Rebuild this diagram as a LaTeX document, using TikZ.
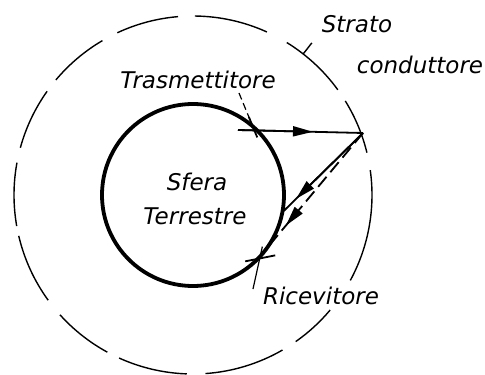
\documentclass[tikz,border=0pt]{standalone}
\usepackage{fontspec}
\setmainfont{DejaVu Sans}
\usetikzlibrary{arrows.meta,calc}
\begin{document}
\begin{tikzpicture}[x=1pt,y=1pt,
  lbl/.style={font=\fontsize{23}{25}\selectfont\itshape, inner sep=0pt},
  outer/.style={line width=1.4pt},
  earth/.style={line width=3.8pt},
  ray/.style={line width=1.8pt},
  tip/.style={-{Triangle[length=20pt,width=10pt]}},
  leader/.style={line width=1.2pt}
]
\useasboundingbox (-193,-180) rectangle (292,195);
\coordinate (O) at (0,0);
% conducting layer (outer dashed circle)
\foreach \a/\b in {-28.5/8, 13.7/31.7, 36/58.4, 65.6/89.4, 94.8/115, 120.4/140, 144.6/164.7, 169.6/190, 193.2/216, 222/241.4, 245.6/268, 274/300, 305/320}
  \draw[outer] (\a:179) arc[start angle=\a, end angle=\b, radius=179];
% earth
\draw[earth] (O) circle[radius=91];
% key points
\coordinate (T) at (49:91);
\coordinate (Ts) at (45,65);
\coordinate (R) at (170,62);
\coordinate (E) at (-11:91);
\coordinate (Rx) at (-42.4:91);
% transmitted ray
\draw[ray] (Ts) -- (R);
\draw[ray, tip] (Ts) -- ($(Ts)!0.6!(R)$);
% reflected rays
\draw[ray] (R) -- (E);
\draw[ray, tip] (R) -- ($(R)!0.83!(E)$);
\draw[ray, dash pattern=on 13pt off 6pt] (R) -- (Rx);
\draw[ray, tip] ($(R)!0.66!(Rx)$) -- ($(R)!0.75!(Rx)$);
% leaders
\coordinate (TL) at (46,102);
\draw[leader, dash pattern=on 7pt off 4pt] (TL) -- (T);
\draw[ray] ($(T)!-12pt!(TL)$) -- ($(T)!10pt!(TL)$);
\coordinate (RL) at (60,-94);
\draw[leader] (RL) -- ($(Rx)!-10pt!(RL)$);
\draw[ray] ($(Rx)+(-15,-5)$) -- ($(Rx)+(15,1)$);
\draw[outer] (52:179) -- (52:193);
% labels
\node[lbl] (strato) at (164,171) {Strato};
\node[lbl] (cond) at (227,130) {conduttore};
\node[lbl] (trasm) at (5,115) {Trasmettitore};
\node[lbl] (sfera) at (4,13) {Sfera};
\node[lbl] (terr) at (2,-21) {Terrestre};
\node[lbl] (ric) at (128,-101) {Ricevitore};
\end{tikzpicture}
\end{document}
